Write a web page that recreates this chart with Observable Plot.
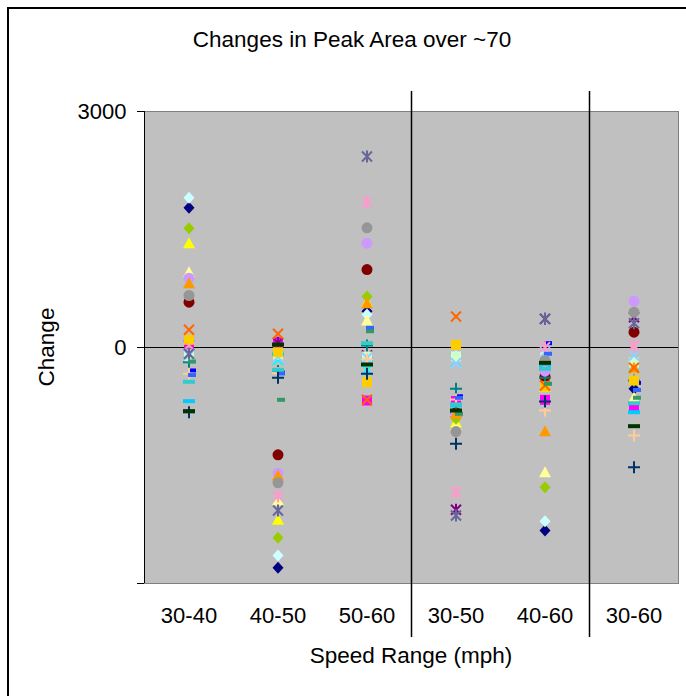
<!DOCTYPE html>
<html>
<head>
<meta charset="utf-8">
<script src="https://cdn.jsdelivr.net/npm/d3@7"></script>
<script src="https://cdn.jsdelivr.net/npm/@observablehq/plot@0.6"></script>
<style>
  html, body { margin: 0; padding: 0; background: #fff; }
  body { width: 686px; height: 696px; overflow: hidden; position: relative; font-family: "Liberation Sans", Arial, sans-serif; color: #000; }
  #frame { position: absolute; left: 7px; top: 7px; width: 1000px; height: 1000px; border-left: 2px solid #000; border-top: 2px solid #000; }
  #chart { position: absolute; left: 0; top: 0; }
  .lbl { position: absolute; white-space: nowrap; font-size: 22.5px; line-height: 1; }
  #title { left: 352px; top: 29px; transform: translateX(-50%); }
  #xlabel { left: 411px; top: 645px; transform: translateX(-50%); }
  #ylabel { left: 47px; top: 347px; transform: translate(-50%, -50%) rotate(-90deg); }
</style>
</head>
<body>
<div id="frame"></div>
<div id="chart"></div>
<div class="lbl" id="title">Changes in Peak Area over ~70</div>
<div class="lbl" id="xlabel">Speed Range (mph)</div>
<div class="lbl" id="ylabel">Change</div>
<script>
// ---- data ----
const categories = ["30-40", "40-50", "50-60", "30-50", "40-60", "30-60"];
const groupSizes = [3, 2, 1]; // 10-mph, 20-mph, 30-mph ranges
const yTicks = [-3000, 0, 3000];

const seriesColors = ["#000080","#FF00FF","#FFFF00","#00FFFF","#800080","#800000","#008080","#0000FF","#00CCFF",
  "#CCFFFF","#CCFFCC","#FFFF99","#99CCFF","#FF99CC","#CC99FF","#FFCC99","#3366FF","#33CCCC",
  "#99CC00","#FFCC00","#FF9900","#FF6600","#666699","#969696","#003366","#339966","#003300"];
const seriesMarkers = ["diamond","square","triangle","x","star","circle","plus","shortDash","longDash",
  "diamond","square","triangle","x","star","circle","plus","shortDash","longDash",
  "diamond","square","triangle","x","star","circle","plus","shortDash","longDash"];

// values per series, in category order
const seriesValues = [
  [1775, -2800, 461, -880, -2326, -525],
  [47, 68, -674, -680, -665, -759],
  [1326, -2190, 576, -950, -500, -258],
  [-80, -157, -284, -187, -250, -230],
  [30, 60, -100, -2063, 364, 385],
  [576, -1364, 991, -830, -369, 195],
  [-187, -300, 25, -525, -386, -420],
  [-292, -320, 237, -620, 55, -450],
  [-682, -80, -150, -737, -230, -822],
  [1903, -2644, 419, -110, -2208, -180],
  [-110, -90, -114, -114, -110, -190],
  [957, -1945, 343, -991, -1585, -639],
  [-100, -120, -130, -200, -60, -102],
  [30, -1890, 1847, -1839, 4, 25],
  [881, -1598, 1326, -850, -301, 589],
  [-334, -326, -150, -660, -801, -1118],
  [-350, -330, 250, -640, -80, -540],
  [-436, -284, 55, -724, -271, -708],
  [1517, -2419, 648, -906, -1776, -420],
  [98, -60, -441, 34, -496, -419],
  [817, -1627, 564, -843, -1064, -258],
  [225, 174, -665, 394, -483, -258],
  [-80, -2072, 2428, -2135, 364, 309],
  [661, -1720, 1521, -1068, -165, 449],
  [-822, -386, -334, -1224, -686, -1521],
  [-178, -665, 207, -843, -462, -639],
  [-809, 38, -216, -801, -195, -1000]
];

// ---- Excel-like marker shapes ----
const symbols = {
  diamond: {draw(c) { c.moveTo(0, -6); c.lineTo(5.5, 0); c.lineTo(0, 6); c.lineTo(-5.5, 0); c.closePath(); }},
  square: {draw(c) { c.rect(-5, -5, 10, 10); }},
  triangle: {draw(c) { c.moveTo(0, -6); c.lineTo(6, 5); c.lineTo(-6, 5); c.closePath(); }},
  x: {draw(c) { c.moveTo(-5, -5); c.lineTo(5, 5); c.moveTo(5, -5); c.lineTo(-5, 5); }},
  star: {draw(c) { c.moveTo(-5, -5); c.lineTo(5, 5); c.moveTo(5, -5); c.lineTo(-5, 5); c.moveTo(0, -6); c.lineTo(0, 6); }},
  circle: {draw(c) { c.moveTo(5.5, 0); c.arc(0, 0, 5.5, 0, 2 * Math.PI); }},
  plus: {draw(c) { c.moveTo(-6, 0); c.lineTo(6, 0); c.moveTo(0, -6); c.lineTo(0, 6); }},
  shortDash: {draw(c) { c.rect(-1, -2, 8, 4); }},
  longDash: {draw(c) { c.rect(-6, -2, 12, 4); }}
};
const strokedMarkers = new Set(["x", "star", "plus"]);

const xDomain = [-0.5, categories.length - 0.5];
const yDomain = [-3000, 3000];
const groupBreaks = groupSizes.slice(0, -1).map((s, i) => groupSizes.slice(0, i + 1).reduce((a, b) => a + b, 0) - 0.5);
const separatorExtent = [3254, -3686];

const seriesMarks = seriesValues.map((vals, s) => {
  const rows = vals.map((v, i) => ({xi: i, value: v}));
  const m = seriesMarkers[s];
  const stroked = strokedMarkers.has(m);
  return Plot.dot(rows, {
    x: "xi", y: "value", symbol: symbols[m],
    fill: stroked ? "none" : seriesColors[s],
    stroke: stroked ? seriesColors[s] : "none",
    strokeWidth: stroked ? 2 : 0
  });
});

const chart = Plot.plot({
  width: 686, height: 696,
  marginLeft: 144, marginRight: 8, marginTop: 111, marginBottom: 113,
  style: {fontFamily: "'Liberation Sans', Arial, sans-serif", fontSize: "22px", background: "transparent", overflow: "visible", color: "#000"},
  x: {domain: xDomain},
  y: {domain: yDomain},
  marks: [
    Plot.frame({fill: "#C0C0C0", stroke: "#808080"}),
    Plot.ruleY([0], {stroke: "#000", strokeWidth: 1}),
    Plot.ruleX([xDomain[0]], {stroke: "#000", strokeWidth: 1}),
    Plot.axisY({ticks: yTicks, tickFormat: d => d === yDomain[0] ? "" : String(d), tickSize: 7, tickPadding: 11, label: null, stroke: "#000"}),
    Plot.axisX({ticks: categories.map((_, i) => i), tickFormat: i => categories[i], tickSize: 0, tickPadding: 24, label: null}),
    ...seriesMarks,
    Plot.ruleX(groupBreaks, {y1: separatorExtent[0], y2: separatorExtent[1], stroke: "#000", strokeWidth: 1.5})
  ]
});
document.getElementById("chart").appendChild(chart);
</script>
</body>
</html>
